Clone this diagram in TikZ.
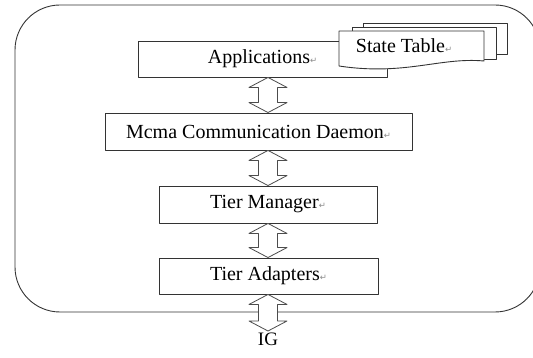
\documentclass[tikz,border=0pt]{standalone}
\usepackage{fontspec}
\setmainfont{Liberation Serif}
\newfontfamily\symfont{DejaVu Sans}
\usetikzlibrary{calc}

% small grey paragraph mark after each label
\newcommand{\retmark}{{\symfont\fontsize{8.5}{8.5}\selectfont\textcolor{black!45}{↵}}}

% hollow two-headed arrow between two points (same x)
\newcommand{\hollowarrow}[2]{%
	\draw[hollow] let \p1=(#1), \p2=(#2) in
	(\x1,\y1) -- (\x1+19pt,\y1-10pt) -- (\x1+9.5pt,\y1-10pt)
	-- (\x1+9.5pt,\y2+10pt) -- (\x1+19pt,\y2+10pt) -- (\x2,\y2)
	-- (\x1-19pt,\y2+10pt) -- (\x1-9.5pt,\y2+10pt)
	-- (\x1-9.5pt,\y1-10pt) -- (\x1-19pt,\y1-10pt) -- cycle;}

\begin{document}
\begin{tikzpicture}[x=1pt, y=-1pt, line cap=round, line join=round,
	box/.style={draw=black!80, line width=0.9pt, fill=white, inner sep=0pt,
		font=\fontsize{20}{23}\selectfont},
	sheet/.style={draw=black!80, line width=0.9pt, fill=white},
	hollow/.style={draw=black!70, line width=0.8pt, fill=white}]
	
	% ----------------------------
	% 0) Canvas
	% ----------------------------
	\clip (0,0) rectangle (533,358);
	\fill[white] (0,0) rectangle (533,358);
	
	% ----------------------------
	% 1) Outer frame
	% ----------------------------
	\draw[black!80, line width=0.9pt, rounded corners=45pt] (15,5) rectangle (540,312);
	
	% ----------------------------
	% 2) Layer boxes
	% ----------------------------
	\node[box, minimum width=249, minimum height=36] (app) at (262.5,59) {Applications\retmark};
	\node[box, minimum width=307, minimum height=37] (mcma) at (258.5,131.5) {Mcma Communication Daemon\retmark};
	\node[box, minimum width=218, minimum height=37] (tm) at (268,204.5) {Tier Manager\retmark};
	\node[box, minimum width=219, minimum height=36] (ta) at (268.5,276) {Tier Adapters\retmark};
	\node[font=\fontsize{19}{22}\selectfont, anchor=north, inner sep=2pt] (ig) at (268,331) {IG};
	
	% ----------------------------
	% 3) State table (stacked sheets)
	% ----------------------------
	\draw[sheet] (363,23) rectangle (507,54);
	\draw[sheet] (352,27) rectangle (496,59);
	\draw[sheet] (339,31) -- (484,31) -- (484,61)
	.. controls (440,57) and (405,76) .. (339,66) -- cycle;
	\node[font=\fontsize{20}{23}\selectfont, inner sep=0pt] (state) at (404,46) {State Table\retmark};
	
	% ----------------------------
	% 4) Hollow arrows
	% ----------------------------
	\coordinate (ax) at (268,0);
	\hollowarrow{ax |- app.south}{ax |- mcma.north}
	\hollowarrow{ax |- mcma.south}{ax |- tm.north}
	\hollowarrow{ax |- tm.south}{ax |- ta.north}
	\hollowarrow{ax |- ta.south}{ax |- ig.north}
	
\end{tikzpicture}
\end{document}
